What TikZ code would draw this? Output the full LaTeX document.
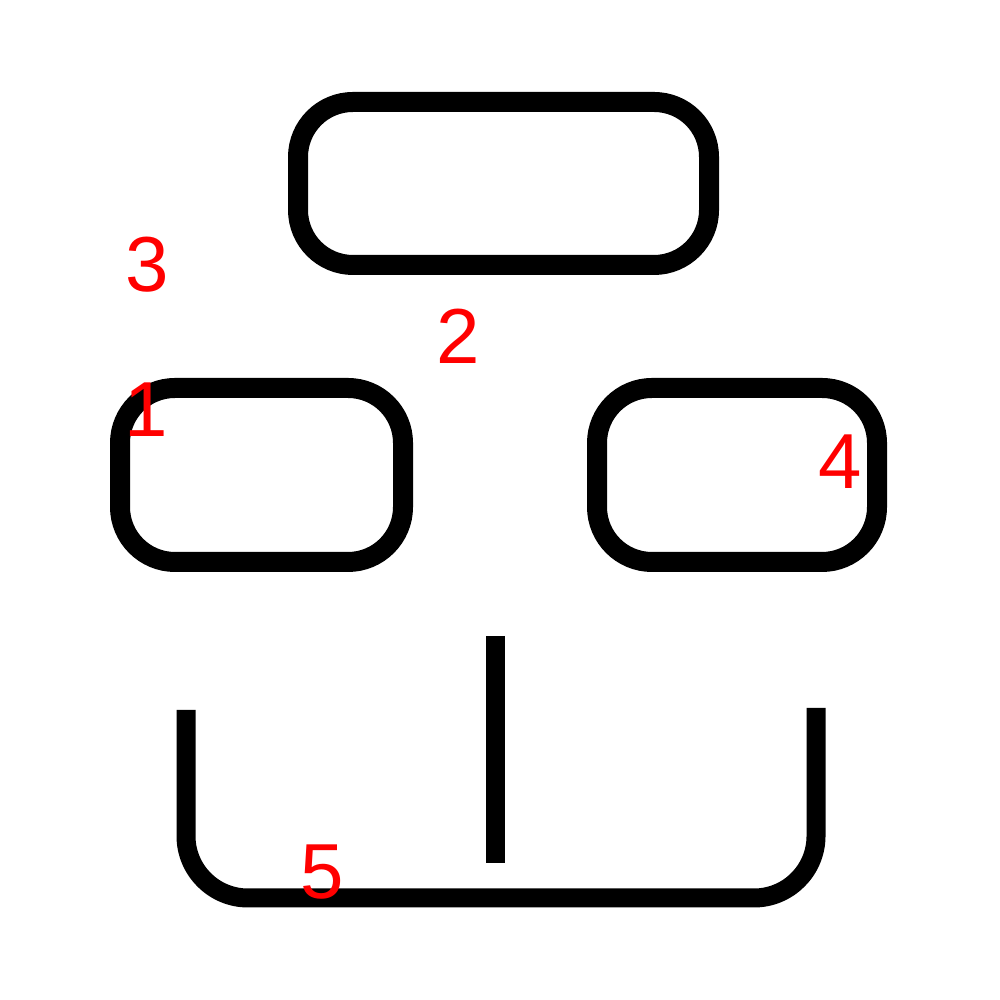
\documentclass[tikz,border=0pt]{standalone}
\usepackage{fontspec}
\setmainfont{Liberation Sans}
\usepackage{tikz}
\colorlet{label}{red}
\tikzset{
  box/.style={draw=black, line width=0.2cm, rounded corners=0.55cm, inner sep=0pt},
  num/.style={text=label, inner sep=0pt, font=\fontsize{22.2}{26}\selectfont}
}

\begin{document}
\begin{tikzpicture}
  \useasboundingbox (0,0) rectangle (10,10);

  % ---------- Boxes ----------
  \node[box, minimum width=4.11cm, minimum height=1.63cm] at (5.035, 8.165) (top) {};
  \node[box, minimum width=2.83cm, minimum height=1.74cm] at (2.615, 5.25) (left) {};
  \node[box, minimum width=2.80cm, minimum height=1.74cm] at (7.37, 5.25) (right) {};

  % ---------- Tray ----------
  \draw[line width=0.19cm, rounded corners=0.62cm] (1.86, 2.90) -- (1.86, 1.02) -- (8.16, 1.02) -- (8.16, 2.92);
  \draw[line width=0.19cm] (4.955, 3.64) -- (4.955, 1.37);

  % ---------- Labels ----------
  \node[num] at (1.47, 7.35) (n3) {3};
  \node[num] at (4.58, 6.64) (n2) {2};
  \node[num] at (1.46, 5.90) (n1) {1};
  \node[num] at (8.40, 5.38) (n4) {4};
  \node[num] at (3.22, 1.28) (n5) {5};
\end{tikzpicture}
\end{document}
